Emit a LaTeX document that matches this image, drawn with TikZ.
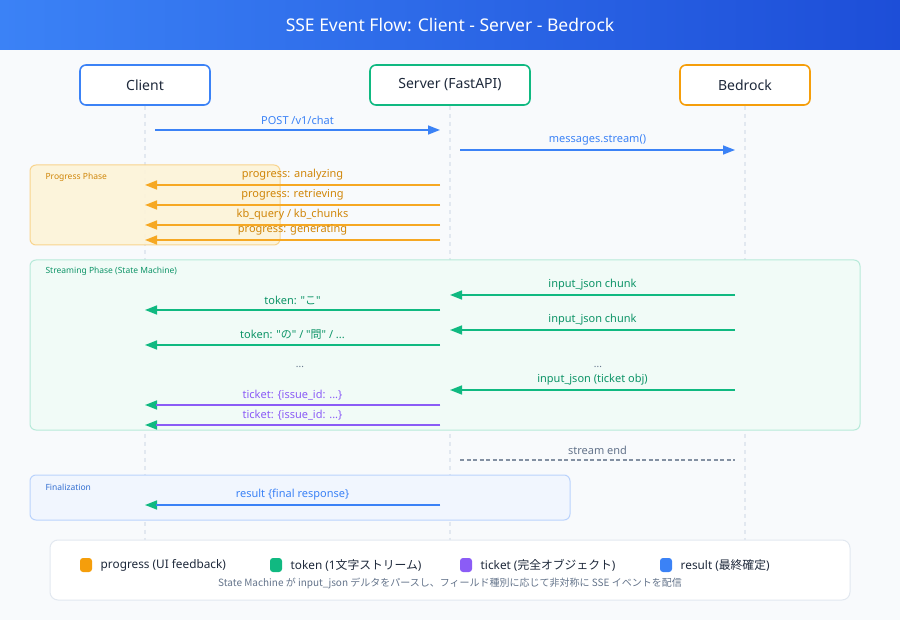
\documentclass[tikz,border=0pt]{standalone}
\usepackage{fontspec}
\setmainfont{Noto Sans}[Ligatures=TeXOff]
\newfontfamily\jp{Noto Sans CJK JP}[Ligatures=TeXOff]
\usetikzlibrary{arrows.meta,positioning}
\definecolor{cblue}{HTML}{3B82F6}
\definecolor{cgreen}{HTML}{10B981}
\definecolor{corange}{HTML}{F59E0B}
\definecolor{cpurple}{HTML}{8B5CF6}
\definecolor{bgc}{HTML}{F8FAFC}
\definecolor{lifec}{HTML}{E2E8F0}
\definecolor{inkc}{HTML}{1E293B}
\definecolor{grayc}{HTML}{64748B}
\definecolor{titlel}{HTML}{3B82F6}
\definecolor{titler}{HTML}{1D4ED8}
\definecolor{progfill}{HTML}{FDF4D8}
\definecolor{progline}{HTML}{F8D48E}

\begin{document}
\begin{tikzpicture}[x=1pt,y=-1pt,
 actor/.style={draw=#1,line width=1.6pt,rounded corners=6pt,fill=white,
 minimum width=130pt,minimum height=40pt,text=inkc,font=\fontsize{14}{16}\selectfont},
 life/.style={lifec,line width=1.5pt,dash pattern=on 4pt off 4pt},
 msg/.style={line width=1.6pt,draw=#1,-{Triangle[length=12pt,width=9pt]}},
 % line in one colour over a green-tipped arrow
 overline/.style={line width=1.6pt,draw=#1,shorten >=11pt},
 lbl/.style={above=1pt,font=\fontsize{11}{13}\selectfont,text=#1},
 phase/.style={anchor=west,font=\fontsize{8.5}{10}\selectfont,text=#1},
 swatch/.style={fill=#1,rounded corners=3pt,minimum width=12pt,minimum height=14pt,inner sep=0pt},
 legtext/.style={right=5pt,font=\fontsize{11.8}{14}\selectfont,text=inkc}]
 % background and title
 \fill[bgc] (0,0) rectangle (900,620);
 \shade[left color=titlel,right color=titler] (0,0) rectangle (900,50);
 \node[text=white,font=\fontsize{17.5}{20}\selectfont] (title) at (450,25) {SSE Event Flow: Client - Server - Bedrock};

 % participants
 \node[actor=cblue] (client) at (145,85) {Client};
 \node[actor=cgreen,minimum width=160pt] (server) at (450,85) {Server (FastAPI)};
 \node[actor=corange] (bedrock) at (745,85) {Bedrock};
 \coordinate (cend) at (145,540);
 \coordinate (send) at (450,540);
 \coordinate (bend) at (745,540);
 \draw[life] (client.south) -- (cend);
 \draw[life] (server.south) -- (send);
 \draw[life] (bedrock.south) -- (bend);

 % phase boxes
 \draw[draw=progline,fill=progfill,fill opacity=0.9,rounded corners=6pt,line width=1pt] (30,165) rectangle (280,245);
 \node[phase=corange!85!black] (progl) at (42,177) {Progress Phase};
 \draw[draw=cgreen!30,fill=cgreen!6,rounded corners=6pt,line width=1pt] (30,260) rectangle (860,430);
 \node[phase=cgreen!80!black] (streaml) at (42,271) {Streaming Phase (State Machine)};
 \draw[draw=cblue!35,fill=cblue!7,rounded corners=6pt,line width=1pt] (30,475) rectangle (570,520);
 \node[phase=cblue!85!black] (finl) at (42,487) {Finalization};

 % request
 \coordinate (post1) at (155,130); \coordinate (post2) at (440,130);
 \draw[msg=cblue] (post1) -- node[lbl=cblue] {POST /v1/chat} (post2);
 \coordinate (call1) at (460,150); \coordinate (call2) at (735,150);
 \draw[msg=cblue] (call1) -- node[lbl=cblue] {messages.stream()} (call2);

 % progress events
 \foreach \y/\txt [count=\i] in {185/{progress: analyzing},205/{progress: retrieving},
 225/{kb\_query / kb\_chunks},240/{progress: generating}} {
 \coordinate (pg\i a) at (440,\y); \coordinate (pg\i b) at (145,\y);
 \draw[msg=corange!90] (pg\i a) -- node[lbl=corange!85!black] {\txt} (pg\i b);
 }

 % bedrock chunks
 \foreach \y/\txt [count=\i] in {295/{input\_json chunk},330/{input\_json chunk},390/{input\_json (ticket obj)}} {
 \coordinate (bk\i a) at (735,\y); \coordinate (bk\i b) at (450,\y);
 \draw[msg=cgreen] (bk\i a) -- node[lbl=cgreen!80!black] {\txt} (bk\i b);
 }
 \node[font=\fontsize{10}{11}\selectfont,text=grayc] (dotsr) at (598,367) {...};

 % tokens to client
 \coordinate (tk1a) at (440,310); \coordinate (tk1b) at (145,310);
 \draw[msg=cgreen] (tk1a) -- node[lbl=cgreen!80!black] {token: "{\jp こ}"} (tk1b);
 \coordinate (tk2a) at (440,345); \coordinate (tk2b) at (145,345);
 \draw[msg=cgreen] (tk2a) -- node[lbl=cgreen!80!black] {token: "{\jp の}" / "{\jp 問}" / ...} (tk2b);
 \node[font=\fontsize{10}{11}\selectfont,text=grayc] (dotsl) at (300,367) {...};

 % tickets
 \foreach \y [count=\i] in {405,425} {
 \coordinate (tc\i a) at (440,\y); \coordinate (tc\i b) at (145,\y);
 \draw[msg=cgreen] (tc\i a) -- (tc\i b);
 \draw[overline=cpurple] (tc\i a) -- node[lbl=cpurple] {ticket: \{issue\_id: ...\}} (tc\i b);
 }

 % stream end
 \coordinate (se1) at (460,460); \coordinate (se2) at (735,460);
 \draw[grayc!80,line width=1.5pt,dash pattern=on 4pt off 2.5pt] (se1) -- node[lbl=grayc] {stream end} (se2);

 % result
 \coordinate (rs1) at (440,505); \coordinate (rs2) at (145,505);
 \draw[msg=cgreen] (rs1) -- (rs2);
 \draw[overline=cblue] (rs1) -- node[lbl=cblue] {result \{final response\}} (rs2);

 % legend
 \draw[draw=lifec,fill=white,rounded corners=8pt,line width=1pt] (50,540) rectangle (850,600);
 \node[swatch=corange] (lg1) at (86,565) {};
 \node[legtext,right=5pt of lg1] (lt1) {progress (UI feedback)};
 \node[swatch=cgreen] (lg2) at (276,565) {};
 \node[legtext,right=5pt of lg2] (lt2) {token (1{\jp 文字ストリーム})};
 \node[swatch=cpurple] (lg3) at (466,565) {};
 \node[legtext,right=5pt of lg3] (lt3) {ticket ({\jp 完全オブジェクト})};
 \node[swatch=cblue] (lg4) at (666,565) {};
 \node[legtext,right=5pt of lg4] (lt4) {result ({\jp 最終確定})};
 \node[font=\fontsize{10}{12}\selectfont\jp,text=grayc] (note) at (450,583)
 {State Machine が input\_json デルタをパースし、フィールド種別に応じて非対称に SSE イベントを配信};
\end{tikzpicture}
\end{document}
